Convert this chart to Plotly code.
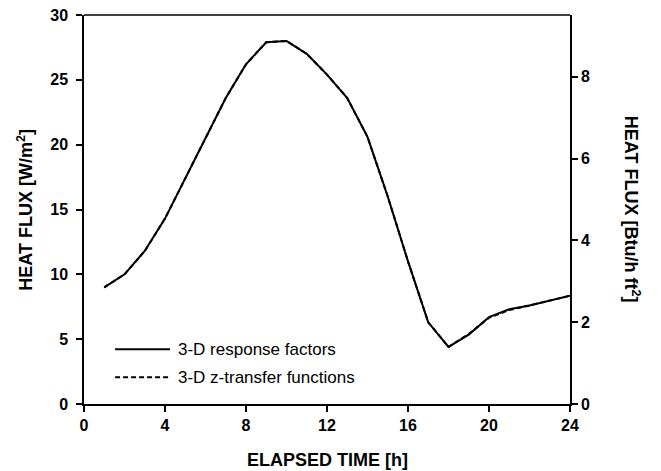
import plotly.graph_objects as go

hours = list(range(1, 25))
response_factors = [9.0, 10.0, 11.8, 14.3, 17.4, 20.5, 23.6, 26.2, 27.9, 28.0,
                    27.0, 25.4, 23.6, 20.6, 16.0, 11.0, 6.3, 4.4, 5.35, 6.7,
                    7.3, 7.6, 7.97, 8.35]
z_transfer = [9.0, 10.0, 11.8, 14.3, 17.4, 20.5, 23.6, 26.2, 27.9, 28.0,
              27.0, 25.4, 23.6, 20.6, 16.0, 11.0, 6.3, 4.4, 5.4, 6.65,
              7.25, 7.6, 7.95, 8.35]
series_names = ["3-D response factors", "3-D z-transfer functions"]
series_dash = ["solid", "5px,3px"]
x_ticks = [0, 4, 8, 12, 16, 20, 24]
y_ticks = [0, 5, 10, 15, 20, 25, 30]
y2_ticks = [0, 2, 4, 6, 8]
W_TO_BTU = 0.317

FONT = "Liberation Sans, Arial, sans-serif"

fig = go.Figure()
# response factors on the W/m2 axis
fig.add_trace(go.Scatter(x=hours, y=response_factors, mode="lines", name=series_names[0],
                         line=dict(color="black", width=2, dash=series_dash[0]),
                         showlegend=False, yaxis="y"))
# z-transfer functions drawn against the Btu/h ft2 axis (same physical scale)
fig.add_trace(go.Scatter(x=hours, y=[v * W_TO_BTU for v in z_transfer], mode="lines",
                         name=series_names[1],
                         line=dict(color="black", width=2, dash=series_dash[1]),
                         showlegend=False, yaxis="y2"))

axis_common = dict(showgrid=False, zeroline=False, showline=True, linecolor="black",
                   linewidth=1.5, ticks="outside", ticklen=6, tickwidth=1.5,
                   tickcolor="black", automargin=False, ticklabeloverflow="allow",
                   tickfont=dict(family=FONT, size=16, color="black", weight="bold"))

fig.update_layout(
    width=653, height=463,
    margin=dict(l=76, r=91, t=7, b=67, autoexpand=False),
    paper_bgcolor="white", plot_bgcolor="white",
    font=dict(family=FONT, color="black"),
    xaxis=dict(range=[0, 24], tickvals=x_ticks, **axis_common),
    yaxis=dict(range=[0, 30], tickvals=y_ticks, ticklabelstandoff=5, **axis_common),
    yaxis2=dict(range=[0, 30 * W_TO_BTU], tickvals=y2_ticks, overlaying="y",
                side="right", anchor="x", **axis_common),
)

# top frame line
fig.add_shape(type="line", xref="paper", yref="paper", x0=0, x1=1, y0=1, y1=1,
              line=dict(color="black", width=1.5))

# axis titles
fig.add_annotation(text="ELAPSED TIME [h]", xref="paper", yref="paper",
                   x=0.5, y=-0.144, xanchor="center", yanchor="middle", showarrow=False,
                   font=dict(family=FONT, size=18, color="black", weight="bold"))
fig.add_annotation(text="HEAT FLUX [W/m<sup>2</sup>]", xref="paper", yref="paper",
                   x=-0.121, y=0.5, xanchor="center", yanchor="middle",
                   textangle=-90, showarrow=False,
                   font=dict(family=FONT, size=18, color="black", weight="bold"))
fig.add_annotation(text="HEAT FLUX [Btu/h ft<sup>2</sup>]", xref="paper", yref="paper",
                   x=1.127, y=0.5, xanchor="center", yanchor="middle",
                   textangle=90, showarrow=False,
                   font=dict(family=FONT, size=18, color="black", weight="bold"))

# legend (manual)
leg_y = [0.141, 0.069]
for name, dash, yy in zip(series_names, series_dash, leg_y):
    fig.add_shape(type="line", xref="paper", yref="paper", x0=0.064, x1=0.177,
                  y0=yy, y1=yy, line=dict(color="black", width=2, dash=dash))
    fig.add_annotation(text=name, xref="paper", yref="paper", x=0.189, y=yy,
                       xanchor="left", yanchor="middle", showarrow=False,
                       font=dict(family=FONT, size=17, color="black"))

fig.write_html("out.html")
